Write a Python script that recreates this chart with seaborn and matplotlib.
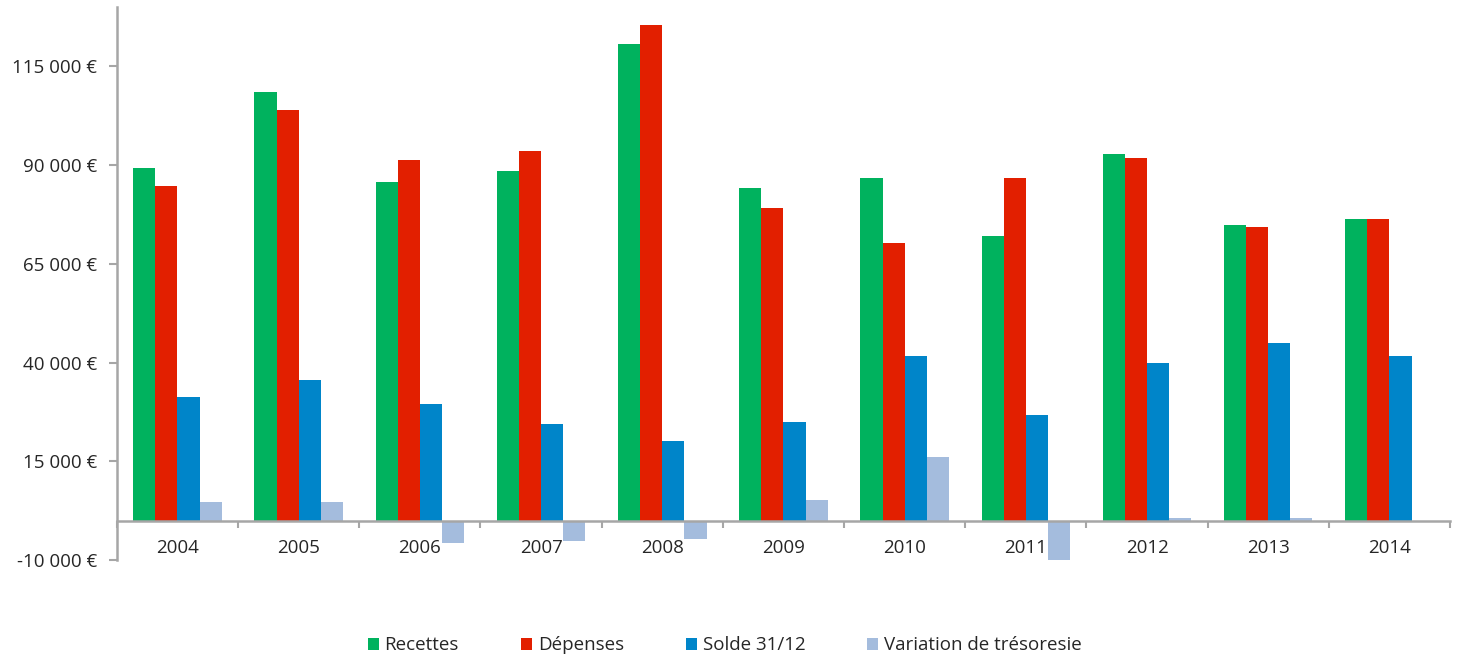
import matplotlib
matplotlib.use("Agg")
import matplotlib.pyplot as plt
import matplotlib.ticker as mticker
import seaborn as sns
import pandas as pd

# data
annees = ["2004", "2005", "2006", "2007", "2008", "2009", "2010", "2011", "2012", "2013", "2014"]
recettes = [89400, 108550, 85860, 88560, 120620, 84090, 86870, 71940, 92940, 74720, 76420]
depenses = [84770, 104080, 91350, 93550, 125590, 79200, 70350, 86870, 91930, 74220, 76420]
solde = [31200, 35600, 29530, 24460, 20160, 25050, 41580, 26740, 39980, 44960, 41580]
variation = [4630, 4630, -5740, -5230, -4640, 5230, 16190, -10120, 680, 680, 0]
series = ["Recettes", "Dépenses", "Solde 31/12", "Variation de trésoresie"]
couleurs = ["#00B25E", "#E21F00", "#0085C9", "#A4BCDD"]
yticks = [-10000, 15000, 40000, 65000, 90000, 115000]

df = pd.concat([
    pd.DataFrame({"annee": annees, "valeur": vals, "serie": nom})
    for nom, vals in zip(series, [recettes, depenses, solde, variation])
], ignore_index=True)

sns.set_theme(style="white")
plt.rcParams['font.family'] = ['Open Sans', 'DejaVu Sans']

fig = plt.figure(figsize=(14.61, 6.55), dpi=100)
ax = fig.add_axes([0.080, 0.145, 0.9125, 0.844])

sns.barplot(data=df, x="annee", y="valeur", hue="serie", palette=couleurs,
            width=0.73, linewidth=0, saturation=1, ax=ax, errorbar=None)

ax.set_xlim(-0.5, len(annees) - 0.5)
ax.set_ylim(-10000, 130000)
ax.set_yticks(yticks)
ax.yaxis.set_major_formatter(mticker.FuncFormatter(
    lambda v, p: f"{int(v):,}".replace(",", " ") + " €"))
ax.set_xlabel("")
ax.set_ylabel("")

# axis styling: bottom line sits at zero, ticks between categories
for s in ["top", "right"]:
    ax.spines[s].set_visible(False)
ax.spines["left"].set_color("#A6A6A6")
ax.spines["left"].set_linewidth(1.8)
ax.spines["bottom"].set_color("#A6A6A6")
ax.spines["bottom"].set_linewidth(1.8)
ax.spines["bottom"].set_position(("data", 0))

ax.set_xticks([i - 0.5 for i in range(len(annees) + 1)], minor=True)
ax.tick_params(axis="x", which="major", bottom=True, length=0, pad=13,
               labelsize=13.5, colors="#262626")
ax.tick_params(axis="x", which="minor", bottom=True, length=5, width=1.5,
               color="#A6A6A6", direction="out")
ax.tick_params(axis="y", which="major", left=True, length=6, width=1.5, color="#A6A6A6",
               direction="out", labelsize=13.5, labelcolor="#262626", pad=8)

handles, labels = ax.get_legend_handles_labels()
ax.legend_.remove()
fig.legend(handles, labels, loc="lower center", bbox_to_anchor=(0.496, -0.025),
           ncol=4, frameon=False, fontsize=13.5, handlelength=0.6, handleheight=0.6,
           handletextpad=0.3, columnspacing=3.3)

plt.savefig("out.png", dpi=100, facecolor="white")
plt.close()
